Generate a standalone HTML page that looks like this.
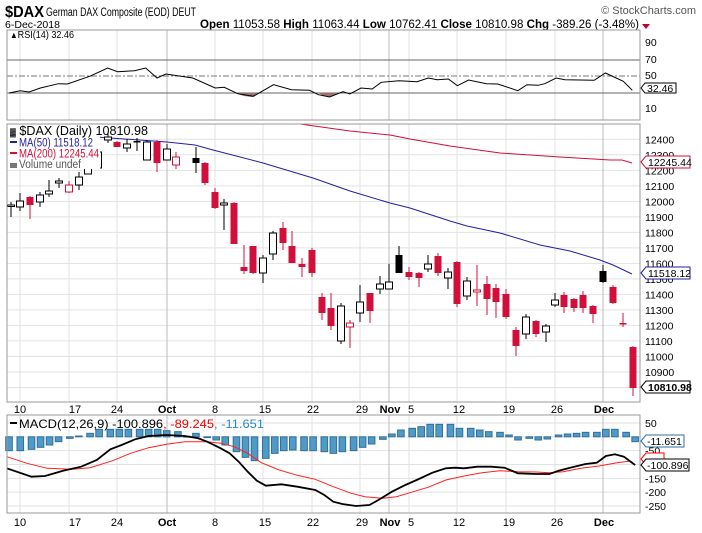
<!DOCTYPE html>
<html><head><meta charset="utf-8">
<style>
body{margin:0;background:#fff;width:702px;height:533px;overflow:hidden;font-family:"Liberation Sans",sans-serif}
svg{position:absolute;left:0;top:0}
</style></head><body>
<svg id="s" width="702" height="533" xmlns="http://www.w3.org/2000/svg" font-family="Liberation Sans, sans-serif"></svg>
<script>
const S=document.getElementById('s');let h='';
function L(x1,y1,x2,y2,c,w,extra){h+=`<line x1="${x1}" y1="${y1}" x2="${x2}" y2="${y2}" stroke="${c}" stroke-width="${w||1}" ${extra||''}/>`;}
function R(x,y,w,hh,f,s){h+=`<rect x="${x}" y="${y}" width="${w}" height="${hh}" fill="${f}" ${s?`stroke="${s}" stroke-width="1"`:''}/>`;}
function T(x,y,t,sz,c,a,b,tl){h+=`<text x="${x}" y="${y}" font-size="${sz}" fill="${c||'#000'}" ${a?`text-anchor="${a}"`:''} ${b?'font-weight="bold"':''} ${tl?`textLength="${tl}" lengthAdjust="spacingAndGlyphs"`:''}>${t}</text>`;}
function P(pts,c,w){h+=`<polyline points="${pts.map(p=>p.join(',')).join(' ')}" fill="none" stroke="${c}" stroke-width="${w||1}"/>`;}
const vx=[20,69,117,167,215,263,312,360,389,409,457,506,555,603];
const dark=[167,389,603];
// Header
T(5,17,'$DAX',16,'#000',null,true,39);
T(46,16,'German DAX Composite (EOD) DEUT',11.5,'#000',null,false,150);
T(696,14,'© StockCharts.com',11,'#555','end');
T(5,28,'6-Dec-2018',10,'#000',null,false,55);
T(200,28,'<tspan font-weight="bold">Open</tspan> 11053.58 <tspan font-weight="bold">High</tspan> 11063.44 <tspan font-weight="bold">Low</tspan> 10762.41 <tspan font-weight="bold">Close</tspan> 10810.98 <tspan font-weight="bold">Chg</tspan> -389.26 (-3.48%)',11.5,'#000',null,false,439);
h+=`<polygon points="642,24 650,24 646,29" fill="#c00030"/>`;
// RSI panel 30-120
const rT=30,rB=120;
for(const x of vx)L(x,rT,x,rB,dark.includes(x)?'#bbb':'#e2e2e2');
L(7,60,640,60,'#666');L(7,93,640,93,'#666');L(7,76,640,76,'#777',1,'stroke-dasharray="6,2,2,2"');
const rz=[[20,280],[45,273],[65,277],[90,265],[130,252],[150,253],[200,230],[240,205],[262,216],[300,213],[325,205],[350,235],[370,223],[430,235],[480,265],[500,263],[530,282],[565,290],[610,255],[650,270],[690,272],[710,285],[735,292],[765,276],[780,283],[805,265],[830,268],[850,248],[890,243],[930,246],[955,235],[975,240],[1000,238],[1020,258],[1045,241],[1085,252],[1110,253],[1155,273],[1175,255],[1200,257],[1215,252],[1240,235],[1260,240],[1325,242],[1350,220],[1390,245],[1410,272]];
const rp=rz.map(p=>[+(p[0]/2.23).toFixed(1),+(76+(p[1]-229)/3).toFixed(1)]);
h+=`<polygon points="234,93 244,96 252,97 260,93" fill="#a07070"/>`;
h+=`<polygon points="318,93 324,96 330,97 338,93" fill="#a07070"/>`;
P(rp,'#000',1);
R(7,rT,633,rB-rT,'none','#999');
T(10,38,'<tspan font-size="9">&#x25B2;</tspan>RSI(14) 32.46',10.5,'#000',null,false,64);
[['90',46],['70',63],['50',79],['10',112]].forEach(a=>T(645,a[1],a[0],10.5,'#000'));
h+=`<polygon points="641,88 645,83 676,83 676,93 645,93" fill="#fff" stroke="#000"/>`;T(647,92,'32.46',10.5);
// Main panel 124-402
const mT=124,mB=402;
const yp=p=>139.3+(12400-p)*0.1551;
for(let p=10700;p<=12500;p+=100){const y=yp(p);if(y>mT&&y<mB)L(7,y,640,y,'#e2e2e2');}
for(const x of vx)L(x,mT,x,mB,dark.includes(x)?'#bbb':'#e2e2e2');
const ma200=[[300,124],[350,131],[390,135],[410,139],[450,146],[500,153],[560,157],[610,160],[622,160],[632,163]];
const ma50=[[96,137],[167,142],[195,145],[213,150],[263,163],[313,178],[350,191],[390,203],[410,208],[450,221],[467,226],[500,233],[540,245],[570,251],[600,260],[613,265],[632,274]];
P(ma200,'#d0103a',1);P(ma50,'#2020a0',1);
const C=[[11,205,206,202,217,'w'],[20,201,207,193,211,'w'],[30,197,205,196,219,'r'],[40,195,202,192,207,'w'],[49,191,194,180,197,'w'],[59,181,183,178,188,'w'],[69,185,192,181,193,'rh'],[79,177,185,172,190,'w'],[88,166,174,163,174,'w'],[98,152,168,144,168,'w'],[108,137,140,133,143,'w'],[117,142,147,141,147,'r'],[127,144,148,139,152,'w'],[137,141,142,138,151,'b'],[147,142,160,140,160,'w'],[157,142,163,140,172,'r'],[167,149,160,144,160,'w'],[176,157,165,152,169,'rh'],[196,158,163,147,173,'b'],[205,163,183,162,185,'r'],[215,192,208,188,209,'r'],[224,203,205,199,230,'w'],[234,203,244,202,244,'r'],[244,267,271,245,274,'r'],[253,246,273,246,274,'r'],[263,258,273,255,283,'w'],[273,233,254,231,260,'w'],[283,228,243,222,250,'r'],[292,246,263,231,263,'r'],[302,264,267,258,277,'r'],[312,250,273,248,277,'r'],[322,297,313,293,320,'r'],[331,308,326,293,330,'r'],[341,306,341,303,344,'w'],[350,323,327,320,348,'rh'],[360,302,313,285,322,'w'],[370,293,311,293,323,'r'],[380,284,289,276,294,'w'],[389,282,289,264,289,'w'],[399,255,273,246,273,'b'],[409,272,277,267,280,'r'],[419,273,278,272,287,'r'],[428,264,269,255,272,'w'],[438,256,273,253,276,'r'],[448,272,278,268,289,'w'],[457,262,304,261,307,'r'],[467,281,296,277,300,'w'],[477,290,292,265,306,'rh'],[487,284,299,276,315,'r'],[496,288,302,284,318,'r'],[506,294,317,289,319,'r'],[516,330,346,327,356,'r'],[526,317,334,314,339,'w'],[536,321,334,320,337,'r'],[546,326,332,324,342,'w'],[555,300,305,293,307,'w'],[564,295,307,292,313,'r'],[574,299,308,298,312,'r'],[583,295,308,291,313,'r'],[593,306,314,305,323,'r'],[603,271,282,265,283,'b'],[613,287,303,285,304,'r'],[623,323,324,313,327,'r'],[633,347,388,346,396,'r']];
for(const c of C){const [x,t,b,wt,wb,k]=c;const col=(k[0]=='r')?'#d0103a':'#000';
L(x,wt,x,wb,col);const hh=Math.max(b-t,1.5);
if(k=='w'||k=='rh')R(x-3.5,t,7,hh,'#fff',col);else R(x-3.5,t,7,hh,col);}
// legend
R(8,125,92,44,'#fff');
T(10,135,'<tspan font-size="8">&#x2593;</tspan> $DAX (Daily) 10810.98',12.5,'#000',null,false,138);
L(10,142,17,142,'#2020a0',2);T(19,146.5,'MA(50) 11518.12',11.5,'#2020a0',null,false,74);
L(10,153,17,153,'#d0103a',2);T(19,157.5,'MA(200) 12245.44',11.5,'#d0103a',null,false,80);
R(10,163,7,5,'#777');T(19,168,'Volume undef',11.5,'#555',null,false,62);
R(7,mT,633,mB-mT,'none','#999');
for(let p=10900;p<=12400;p+=100){T(645,yp(p)+4,p,10.5,'#000');}
function tag(y,txt,col,bold){h+=`<polygon points="641,${y} 646,${y-6} 690,${y-6} 690,${y+6} 646,${y+6}" fill="#fff" stroke="${col}"/>`;T(648,y+4,txt,10.5,'#000',null,bold);}
tag(162,'12245.44','#d0103a');tag(273,'11518.12','#2020a0');tag(387,'10810.98','#000',true);
// Date labels
const dl=[[20,'10'],[75,'17'],[117,'24'],[167,'Oct',1],[215,'8'],[265,'15'],[313,'22'],[362,'29'],[390,'Nov',1],[411,'5'],[459,'12'],[509,'19'],[557,'26'],[604,'Dec',1]];
for(const d of dl){T(d[0],413,d[1],11,'#000','middle',d[2]);T(d[0],526,d[1],11,'#000','middle',d[2]);}
// MACD panel 415-513
const aT=415,aB=513;
const my=m=>423+(50-m)*0.2767;
for(let m=50;m>=-250;m-=50)L(7,my(m),640,my(m),'#e2e2e2');
for(const x of vx)L(x,aT,x,aB,dark.includes(x)?'#bbb':'#e2e2e2');
const hz=[[20,152],[45,152],[70,148],[90,142],[110,135],[130,125],[155,115],[175,108],[200,100],[220,88],[245,88],[265,88],[285,88],[310,88],[330,88],[350,88],[370,92],[395,95],[415,109],[435,100],[460,112],[480,120],[500,135],[525,155],[545,172],[565,182],[590,175],[610,160],[630,152],[650,150],[675,152],[695,152],[720,155],[740,160],[760,155],[785,152],[805,142],[825,132],[850,118],[870,102],[890,90],[915,85],[935,80],[955,73],[975,73],[1000,73],[1020,85],[1045,85],[1065,90],[1085,95],[1110,97],[1130,105],[1150,120],[1175,115],[1195,120],[1215,117],[1240,105],[1260,102],[1280,100],[1300,97],[1325,97],[1345,88],[1365,88],[1390,97],[1410,125]];
const z0=436.8;
for(const b of hz){const x=b[0]/2.22;const y=400+b[1]/3;R(x-3.3,Math.min(y,z0),6.6,Math.max(Math.abs(y-z0),0.8),'#4f9ac6','#2f6f9a');}
const mz=[[15,205],[70,230],[100,228],[140,212],[180,200],[215,180],[245,148],[270,135],[300,118],[330,108],[370,105],[410,108],[440,115],[460,125],[490,145],[510,160],[530,185],[550,215],[570,242],[590,257],[625,253],[660,260],[700,270],[720,285],[740,305],[760,312],[790,318],[820,315],[840,300],[870,275],[900,255],[930,237],[960,218],[990,205],[1010,203],[1030,205],[1060,200],[1090,200],[1120,203],[1150,220],[1190,222],[1220,222],[1240,212],[1270,202],[1300,192],[1325,188],[1345,168],[1365,163],[1385,170],[1410,195]];
const sz=[[15,170],[60,190],[105,205],[160,208],[200,203],[250,182],[290,160],[330,143],[370,133],[410,125],[460,125],[490,130],[520,140],[550,160],[580,188],[620,210],[660,226],[700,238],[740,260],[780,280],[810,290],[850,295],[880,290],[910,278],[950,262],[990,240],[1030,228],[1070,218],[1110,212],[1150,215],[1190,216],[1220,218],[1250,215],[1290,205],[1330,198],[1370,188],[1400,183]];
const cv=a=>a.map(p=>[+(p[0]/2.22).toFixed(1),+(400+p[1]/3).toFixed(1)]);
P(cv(sz),'#ff2020',1);P(cv(mz),'#000',1.8);
R(7,aT,633,aB-aT,'none','#999');
L(10,423,17,423,'#000',2);
T(19,428,'MACD(12,26,9) -100.896<tspan fill="#e00">, -89.245</tspan><tspan fill="#2a8ac0">, -11.651</tspan>',12,'#000',null,false,245);
[[50,'50'],[-50,'-50'],[-100,'-100'],[-150,'-150'],[-200,'-200'],[-250,'-250']].forEach(a=>T(645,my(a[0])+4,a[1],10.5,'#000'));
h+=`<polygon points="641,459 646,453 664,453 664,465 646,465" fill="#fff" stroke="#f00"/>`;
h+=`<polygon points="641,441 646,435 684,435 684,447 646,447" fill="#fff" stroke="#2f6f9a"/>`;T(647,445,'-11.651',10.5);
h+=`<polygon points="641,465 646,459 689,459 689,471 646,471" fill="#fff" stroke="#000"/>`;T(647,469,'-100.896',10.5);
S.innerHTML=h;
</script>
</body></html>
